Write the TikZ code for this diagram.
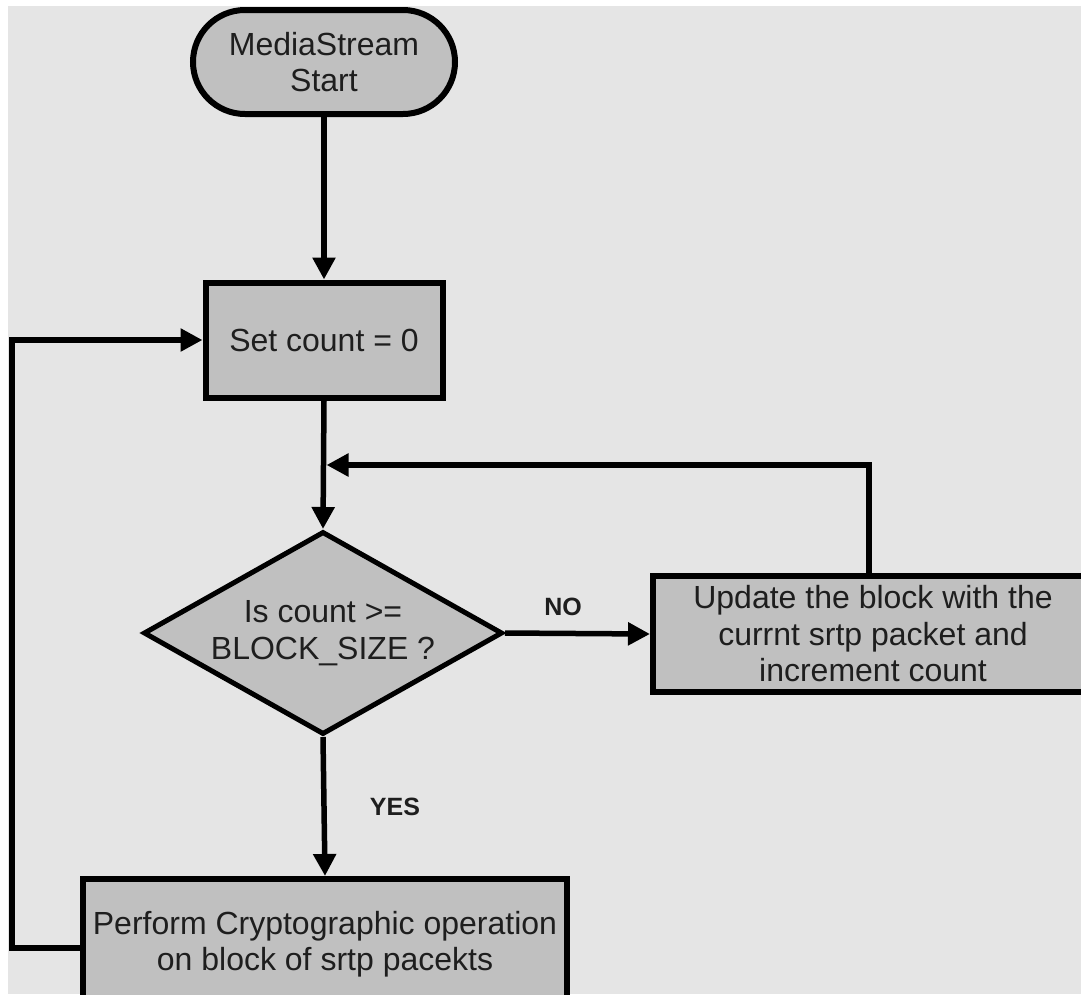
\documentclass[tikz,border=0pt]{standalone}
\usepackage{fontspec}
\setmainfont{Liberation Sans}
\usetikzlibrary{arrows.meta,shapes.geometric}
\definecolor{panel}{HTML}{E5E5E5}
\definecolor{boxfill}{HTML}{C0C0C0}
\definecolor{ink}{HTML}{1E1E1E}
\begin{document}
\begin{tikzpicture}[x=1pt,y=-1pt,
  every node/.style={font=\fontsize{32}{36.5}\selectfont, text=ink, align=center},
  stepbox/.style={draw=black, fill=boxfill, line width=6pt, inner sep=0pt},
  termbox/.style={stepbox, rounded corners=52pt},
  decision/.style={stepbox, diamond, line width=5pt, aspect=1.77},
  flow/.style={line width=5.5pt, -{Triangle[length=22pt,width=22pt]}},
  tag/.style={font=\fontsize{25}{28}\selectfont\bfseries}]
  % canvas
  \useasboundingbox (0,0) rectangle (1081,994);
  \clip (0,0) rectangle (1081,994);
  \fill[white] (0,0) rectangle (1081,994);
  \fill[panel] (8,6) rectangle (1081,994);

  % blocks
  \node[termbox, minimum width=262pt, minimum height=104pt] (start) at (324,62) {MediaStream\\Start};
  \node[stepbox, minimum width=237pt, minimum height=115pt] (setc) at (324,340) {Set count = 0};
  \node[decision, minimum width=359pt, minimum height=203pt] (dec) at (323,633) {Is count >=\\BLOCK\_SIZE ?};
  \node[stepbox, minimum width=440pt, minimum height=116pt] (upd) at (873,634) {Update the block with the\\currnt srtp packet and\\increment count};
  \node[stepbox, minimum width=484pt, minimum height=130pt] (perf) at (325,944) {Perform Cryptographic operation\\on block of srtp pacekts};

  % labels
  \node[tag] (no) at (563,607) {NO};
  \node[tag] (yes) at (395,807) {YES};

  % connectors
  \coordinate (join) at (324,465);
  \coordinate (leftrail) at (12,948);
  \coordinate (riser) at (869,575);
  \draw[flow] (start.south) -- (setc.north);
  \draw[flow] (setc.south) -- (dec.north);
  \draw[flow] (dec.east) -- (upd.west);
  \draw[flow] (upd.north -| riser) |- ([xshift=2.5pt]join);
  \draw[flow] (dec.south) -- (perf.north);
  \draw[flow] (perf.west |- leftrail) -- (leftrail) |- (setc.west);
\end{tikzpicture}
\end{document}
